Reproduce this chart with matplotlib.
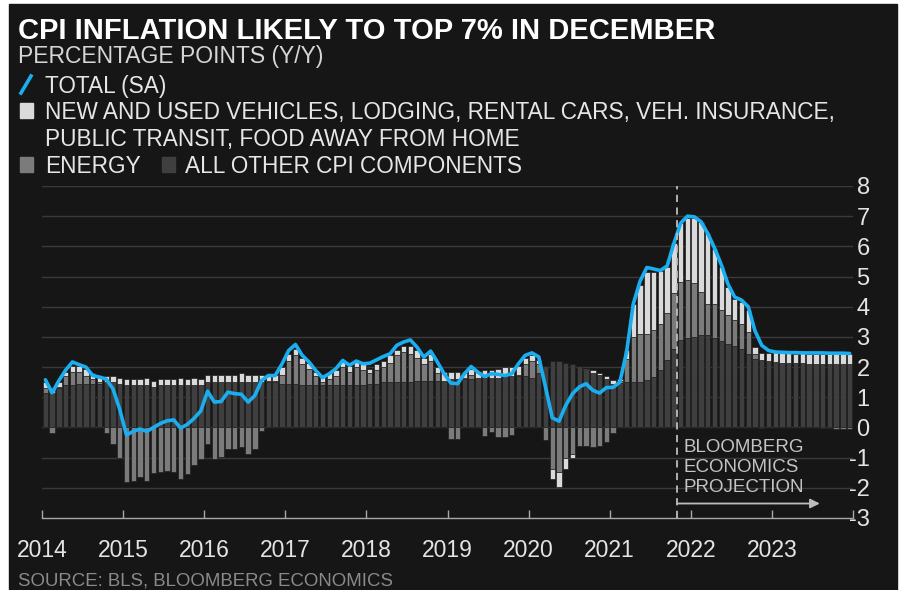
import numpy as np
import matplotlib.pyplot as plt
from matplotlib.patches import Rectangle
from matplotlib.lines import Line2D

# Monthly contributions, Jan 2014 .. Dec 2023 (percentage points, y/y)
years = list(range(2014, 2024))

other = [
    1.15, 1.15, 1.30, 1.40, 1.40, 1.45, 1.45, 1.45, 1.45, 1.50, 1.50, 1.45,
    1.40, 1.40, 1.40, 1.40, 1.35, 1.40, 1.40, 1.40, 1.40, 1.40, 1.40, 1.40,
    1.50, 1.50, 1.50, 1.50, 1.50, 1.50, 1.50, 1.50, 1.50, 1.50, 1.50, 1.45,
    1.45, 1.45, 1.40, 1.40, 1.40, 1.40, 1.40, 1.40, 1.40, 1.40, 1.40, 1.40,
    1.45, 1.45, 1.50, 1.50, 1.50, 1.50, 1.50, 1.55, 1.55, 1.55, 1.55, 1.55,
    1.60, 1.60, 1.60, 1.60, 1.65, 1.65, 1.65, 1.65, 1.70, 1.70, 1.70, 1.70,
    1.65, 1.80, 2.05, 2.20, 2.20, 2.15, 2.10, 2.05, 1.90, 1.82, 1.75, 1.60,
    1.45, 1.48, 1.50, 1.50, 1.50, 1.56, 1.67, 1.89, 2.23, 2.61, 2.89, 2.95,
    3.00, 3.06, 3.05, 2.95, 2.85, 2.78, 2.70, 2.60, 2.45, 2.28, 2.25, 2.20,
    2.17, 2.15, 2.13, 2.12, 2.12, 2.11, 2.11, 2.10, 2.10, 2.10, 2.10, 2.10,
]

energy = [
    0.15, -0.20, 0.05, 0.30, 0.45, 0.40, 0.25, 0.15, 0.05, -0.20, -0.55, -1.00,
    -1.82, -1.76, -1.65, -1.76, -1.50, -1.48, -1.43, -1.48, -1.72, -1.55, -1.26, -1.04,
    -0.55, -1.04, -0.99, -0.70, -0.70, -0.65, -0.87, -0.70, -0.12, 0.05, 0.05, 0.30,
    0.75, 0.95, 0.70, 0.55, 0.30, 0.10, 0.20, 0.30, 0.60, 0.45, 0.60, 0.50,
    0.35, 0.45, 0.50, 0.65, 0.90, 1.00, 0.95, 0.75, 0.55, 0.65, 0.25, 0.00,
    -0.37, -0.38, 0.05, 0.15, 0.00, -0.28, -0.15, -0.30, -0.30, -0.25, 0.05, 0.40,
    0.55, 0.30, -0.43, -1.37, -1.48, -1.00, -0.87, -0.60, -0.62, -0.65, -0.60, -0.48,
    -0.20, 0.05, 0.78, 1.50, 1.61, 1.55, 1.55, 1.55, 1.55, 1.83, 1.94, 1.93,
    1.77, 1.44, 1.05, 1.15, 1.04, 0.94, 0.85, 0.84, 0.72, 0.17, -0.02, 0.00,
    0.00, 0.00, 0.00, 0.00, 0.00, 0.00, 0.00, -0.02, -0.03, -0.05, -0.06, -0.06,
]

vehicles = [
    0.20, 0.15, 0.15, 0.15, 0.20, 0.20, 0.25, 0.20, 0.20, 0.20, 0.20, 0.20,
    0.20, 0.20, 0.20, 0.25, 0.20, 0.20, 0.20, 0.20, 0.25, 0.20, 0.25, 0.20,
    0.25, 0.25, 0.25, 0.25, 0.25, 0.30, 0.25, 0.25, 0.25, 0.20, 0.20, 0.25,
    0.25, 0.20, 0.20, 0.20, 0.15, 0.20, 0.20, 0.20, 0.20, 0.20, 0.20, 0.20,
    0.15, 0.20, 0.20, 0.25, 0.15, 0.20, 0.25, 0.25, 0.20, 0.25, 0.20, 0.30,
    0.25, 0.25, 0.20, 0.20, 0.20, 0.25, 0.25, 0.30, 0.30, 0.30, 0.30, 0.20,
    0.20, 0.15, 0.00, -0.33, -0.50, -0.38, -0.13, 0.00, 0.05, 0.07, 0.07, 0.10,
    0.12, 0.08, 0.28, 1.10, 1.60, 2.05, 1.94, 1.76, 1.55, 1.66, 1.94, 2.05,
    2.16, 2.32, 2.33, 1.80, 1.41, 0.93, 0.70, 0.71, 0.73, 0.22, 0.22, 0.27,
    0.32, 0.32, 0.33, 0.33, 0.34, 0.34, 0.34, 0.34, 0.34, 0.34, 0.34, 0.33,
]

total = [
    1.58, 1.15, 1.55, 1.90, 2.17, 2.08, 2.00, 1.72, 1.67, 1.60, 1.28, 0.60,
    -0.25, -0.13, -0.05, -0.13, 0.00, 0.13, 0.22, 0.25, -0.02, 0.10, 0.30, 0.55,
    1.20, 0.84, 0.86, 1.17, 1.12, 1.10, 0.84, 1.06, 1.56, 1.72, 1.72, 2.10,
    2.55, 2.75, 2.39, 2.17, 1.89, 1.65, 1.78, 1.95, 2.22, 2.06, 2.20, 2.11,
    2.13, 2.24, 2.35, 2.44, 2.72, 2.83, 2.90, 2.66, 2.33, 2.53, 2.17, 1.78,
    1.47, 1.45, 1.78, 2.02, 1.83, 1.69, 1.78, 1.76, 1.72, 1.78, 2.11, 2.39,
    2.47, 2.34, 1.34, 0.32, 0.21, 0.73, 1.12, 1.34, 1.45, 1.23, 1.14, 1.32,
    1.33, 1.50, 2.50, 4.10, 4.85, 5.30, 5.25, 5.20, 5.35, 6.10, 6.77, 7.00,
    6.98, 6.82, 6.43, 5.95, 5.40, 4.75, 4.32, 4.22, 4.00, 3.20, 2.72, 2.55,
    2.50, 2.49, 2.48, 2.48, 2.47, 2.47, 2.47, 2.47, 2.46, 2.46, 2.46, 2.45,
]

projection_start = 2014 + 94 / 12  # Nov 2021

BG = '#161616'
DARK = '#3f3f3f'
MID = '#7b7b7b'
LIGHT = '#dadada'
BLUE = '#1aaef0'
GRID = '#3a3a3a'
ARIAL = ['Liberation Sans', 'DejaVu Sans']

W, H = 905, 590


def fx(px):
    return px / W


def fy(py):
    return 1 - py / H


fig = plt.figure(figsize=(W / 100, H / 100), dpi=100, facecolor='white')
fig.patches.append(Rectangle((fx(9), 0), fx(W - 17), fy(4), transform=fig.transFigure,
                             color=BG, zorder=-10))

ax = fig.add_axes([fx(42), fy(518), fx(853 - 42), (518 - 186) / H])
ax.set_facecolor('none')

n = len(other)
x = 2014 + (np.arange(n) + 0.5) / 12
pos = np.zeros(n)
neg = np.zeros(n)
for vals, col in [(other, DARK), (energy, MID), (vehicles, LIGHT)]:
    v = np.array(vals)
    bottom = np.where(v >= 0, pos, neg)
    ax.bar(x, v, width=0.8 / 12, bottom=bottom, color=col, edgecolor='#1e1e1e',
           linewidth=0.5, zorder=2)
    pos += np.clip(v, 0, None)
    neg += np.clip(v, None, 0)

ax.plot(x, total, color=BLUE, lw=2.6, zorder=4, solid_joinstyle='round',
        solid_capstyle='round')

for yv in range(-2, 9):
    ax.axhline(yv, color=GRID, lw=1, zorder=1)

ax.set_xlim(2014, 2024)
ax.set_ylim(-3, 8)

for s in ['top', 'left', 'right']:
    ax.spines[s].set_visible(False)
ax.spines['bottom'].set_color('#a8a8a8')
ax.spines['bottom'].set_linewidth(1)

ax.set_xticks(range(2014, 2025))
ax.set_xticklabels([str(y) for y in years] + [''], fontfamily=ARIAL)
ax.tick_params(axis='x', direction='in', length=6, width=1, color='#a8a8a8',
               pad=15, labelsize=16.5, labelcolor='#e4e4e4')

ax.yaxis.tick_right()
ax.set_yticks(range(-3, 9))
ax.set_yticklabels([str(v) for v in range(-3, 9)], fontfamily=ARIAL, ha='right')
ax.tick_params(axis='y', length=0, pad=12, labelsize=17, labelcolor='#e4e4e4')

# projection marker
ax.plot([projection_start, projection_start], [-3, 8], color='#bdbdbd', lw=1.3,
        dashes=(4, 3), zorder=5)
ax.annotate('', xy=(2023.59, -2.52), xytext=(projection_start, -2.52),
            arrowprops=dict(arrowstyle='-|>', color='#bdbdbd', lw=1.3,
                            mutation_scale=14, shrinkA=0, shrinkB=0), zorder=5)
fig.text(fx(683), fy(439), 'BLOOMBERG\nECONOMICS\nPROJECTION', color='#c4c4c4',
         fontsize=13.5, family=ARIAL, va='top', ha='left', linespacing=1.25)

# titles
fig.text(fx(18), fy(39), 'CPI INFLATION LIKELY TO TOP 7% IN DECEMBER', color='white',
         fontsize=21, fontweight='bold', family=ARIAL, va='baseline')
fig.text(fx(18), fy(63), 'PERCENTAGE POINTS (Y/Y)', color='#d6d6d6',
         fontsize=16.5, family=ARIAL, va='baseline')

# legend
fig.lines.append(Line2D([fx(21), fx(31)], [fy(93), fy(76)], transform=fig.transFigure,
                        color=BLUE, lw=2.6))
fig.text(fx(45), fy(93), 'TOTAL (SA)', color='#e6e6e6', fontsize=16.3,
         family=ARIAL, va='baseline')


def swatch(px, py, col):
    fig.patches.append(Rectangle((fx(px), fy(py + 15)), fx(13), 15 / H,
                                 transform=fig.transFigure, color=col))


swatch(20, 103, LIGHT)
fig.text(fx(45), fy(119), 'NEW AND USED VEHICLES, LODGING, RENTAL CARS, VEH. INSURANCE,',
         color='#e6e6e6', fontsize=16.3, family=ARIAL, va='baseline')
fig.text(fx(45), fy(146), 'PUBLIC TRANSIT, FOOD AWAY FROM HOME',
         color='#e6e6e6', fontsize=16.3, family=ARIAL, va='baseline')
swatch(20, 157, MID)
fig.text(fx(45), fy(173), 'ENERGY', color='#e6e6e6', fontsize=16.3,
         family=ARIAL, va='baseline')
swatch(162, 157, DARK)
fig.text(fx(185), fy(173), 'ALL OTHER CPI COMPONENTS', color='#e6e6e6', fontsize=16.3,
         family=ARIAL, va='baseline')

fig.text(fx(18), fy(585), 'SOURCE: BLS, BLOOMBERG ECONOMICS', color='#8a8a8a',
         fontsize=13.4, family=ARIAL, va='baseline')

fig.savefig('out.png', dpi=100, facecolor=fig.get_facecolor())
